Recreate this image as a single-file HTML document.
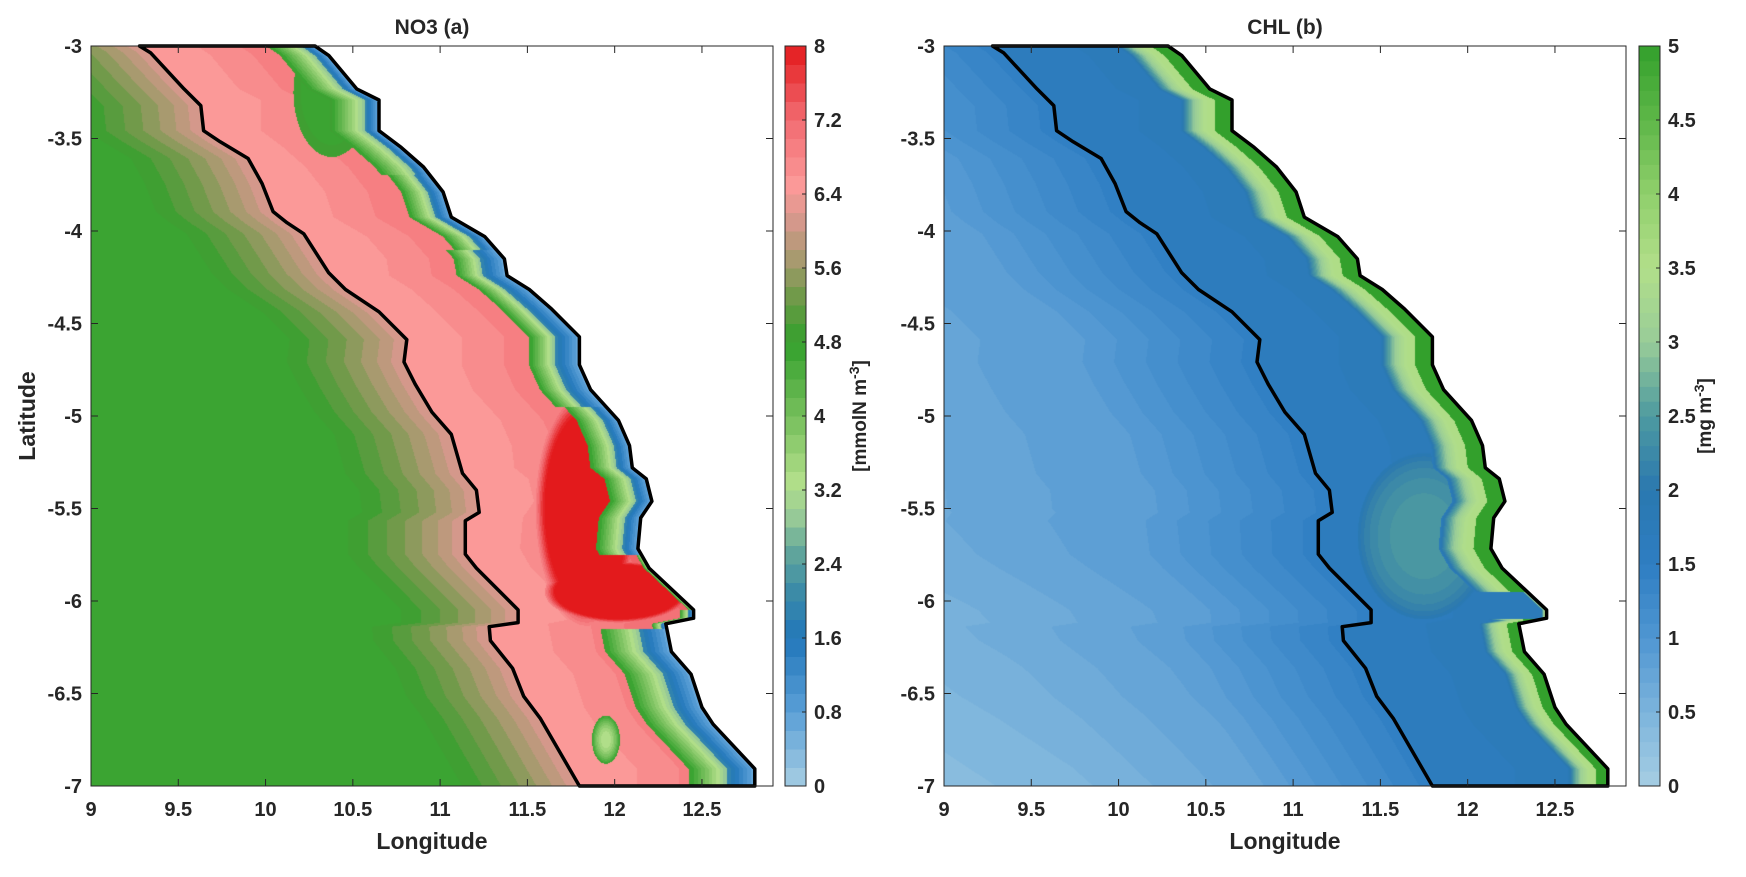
<!DOCTYPE html>
<html><head><meta charset="utf-8">
<style>
body{margin:0;background:#fff;width:1746px;height:877px;overflow:hidden;position:relative;font-family:"Liberation Sans",sans-serif;}
canvas{position:absolute;}
svg{position:absolute;left:0;top:0;}
text{font-family:"Liberation Sans",sans-serif;font-weight:bold;fill:#262626;}
</style></head>
<body>
<canvas id="c1" width="682" height="740" style="left:91px;top:46px"></canvas>
<canvas id="c2" width="682" height="740" style="left:944px;top:46px"></canvas>
<svg id="ov" width="1746" height="877"></svg>
<script>
// ---- data ----
const coastLon=[10.283,10.362,10.522,10.650,10.650,10.777,10.905,11.017,11.064,11.256,11.368,11.384,11.511,11.639,11.798,11.798,11.862,12.022,12.085,12.101,12.181,12.213,12.149,12.133,12.197,12.452,12.452,12.293,12.325,12.437,12.500,12.564,12.803,12.803];
const coastLat=[-3.000,-3.051,-3.232,-3.292,-3.458,-3.548,-3.654,-3.789,-3.925,-4.030,-4.151,-4.241,-4.316,-4.422,-4.572,-4.723,-4.858,-5.024,-5.160,-5.280,-5.340,-5.461,-5.551,-5.717,-5.822,-6.048,-6.093,-6.123,-6.274,-6.395,-6.575,-6.666,-6.907,-7.000];
const shelfLon=[9.278,9.341,9.533,9.629,9.645,9.740,9.900,9.980,10.043,10.123,10.219,10.362,10.458,10.650,10.809,10.793,10.857,10.953,11.064,11.128,11.208,11.224,11.144,11.144,11.208,11.447,11.447,11.281,11.288,11.415,11.479,11.575,11.798];
const shelfLat=[-3.000,-3.036,-3.232,-3.322,-3.458,-3.518,-3.608,-3.744,-3.895,-3.955,-4.015,-4.226,-4.316,-4.437,-4.587,-4.708,-4.828,-4.979,-5.099,-5.310,-5.401,-5.521,-5.566,-5.747,-5.822,-6.048,-6.117,-6.139,-6.214,-6.364,-6.515,-6.636,-7.000];
const xTicks=[9,9.5,10,10.5,11,11.5,12,12.5];
const xTickLabels=["9","9.5","10","10.5","11","11.5","12","12.5"];
const yTicks=[-3,-3.5,-4,-4.5,-5,-5.5,-6,-6.5,-7];
const yTickLabels=["-3","-3.5","-4","-4.5","-5","-5.5","-6","-6.5","-7"];
const no3Ticks=[0,0.8,1.6,2.4,3.2,4,4.8,5.6,6.4,7.2,8];
const no3TickLabels=["0","0.8","1.6","2.4","3.2","4","4.8","5.6","6.4","7.2","8"];
const chlTicks=[0,0.5,1,1.5,2,2.5,3,3.5,4,4.5,5];
const chlTickLabels=["0","0.5","1","1.5","2","2.5","3","3.5","4","4.5","5"];
// ---- axes ----
const AX={w:682,h:740,top:46,lon0:9,lon1:12.907,lat0:-3,lat1:-7};
const panels=[{left:91,cb:785,cid:'c1',max:8,ticks:no3Ticks,tl:no3TickLabels,title:"NO3  (a)",unit:"[mmolN m",name:'no3'},
              {left:944,cb:1639,cid:'c2',max:5,ticks:chlTicks,tl:chlTickLabels,title:"CHL  (b)",unit:"[mg m",name:'chl'}];
function xs(lon){return (lon-AX.lon0)/(AX.lon1-AX.lon0)*AX.w;}
function ys(lat){return (lat-AX.lat0)/(AX.lat1-AX.lat0)*AX.h;}
function interp(lats,lons,lat){
  for(let i=0;i<lats.length-1;i++){ if(lat<=lats[i]&&lat>=lats[i+1]){const t=(lats[i]-lat)/((lats[i]-lats[i+1])||1);return lons[i]+t*(lons[i+1]-lons[i]);}}
  return lons[lons.length-1];
}
function cl(x){return x<0?0:x>1?1:x;}
function hex(h){return [parseInt(h.substr(1,2),16),parseInt(h.substr(3,2),16),parseInt(h.substr(5,2),16)];}
function cmap(stops,t){
  t=cl(t);for(let i=0;i<stops.length-1;i++){if(t<=stops[i+1][0]){const u=(t-stops[i][0])/(stops[i+1][0]-stops[i][0]);const a=hex(stops[i][1]),b=hex(stops[i+1][1]);return [0,1,2].map(k=>Math.round(a[k]+u*(b[k]-a[k])));}}
  return hex(stops[stops.length-1][1]);
}
const no3Stops=[[0,'#a6cee3'],[0.1,'#5a9fd6'],[0.2,'#2277ba'],[0.26,'#3a8aa8'],[0.32,'#64a89a'],[0.36,'#94c898'],[0.41,'#b2df8a'],[0.5,'#76bf5c'],[0.6,'#33a02c'],[0.66,'#6e9a48'],[0.71,'#a69a6e'],[0.76,'#d2988a'],[0.81,'#fb9a99'],[0.9,'#f26c72'],[1,'#e31a1c']];
const chlStops=[[0,'#a6cee3'],[0.1,'#7cb4dc'],[0.2,'#4f96d2'],[0.3,'#2e7ec2'],[0.4,'#2a78b0'],[0.5,'#4e9aa0'],[0.6,'#98cc98'],[0.7,'#b2df8a'],[0.8,'#90cf6c'],[0.9,'#5eb748'],[1,'#33a02c']];
function no3Val(lon,lat,c,s){
  const dc=c-lon,e=s-lon;
  let v;
  if(e>0){v=6.25-1.5*Math.pow(cl(e/0.7),0.8); v-=0.1*cl((e-1.2)/1);}
  else{v=6.5+0.8*Math.pow(cl(1-dc/0.9),1.5);}
  let w=1-Math.pow((lon-11.84)/0.3,2)-Math.pow((lat+5.5)/0.65,2);
  if(w>0)v=Math.max(v,6.6+w*4);
  let w2=1-Math.pow((lon-12.02)/0.42,2)-Math.pow((lat+5.95)/0.17,2);
  if(w2>0)v=Math.max(v,6.8+w2*5);
  let w3=1-Math.pow((lon-11.95)/0.08,2)-Math.pow((lat+6.75)/0.13,2);
  if(w3>0)v=3.2+1.6*(1-w3);
  let gw,bw;
  if(lat>-3.7){gw=0.2;bw=0.08;}
  else if(lat>-6.05){gw=0.15;bw=(lat<-4.1&&lat>-4.95)?0.14:0.09;}
  else if(lat>-6.15){gw=0.05;bw=0.03;}
  else {gw=0.22;bw=0.16;}
  if(lat<-5.75&&lat>-6.05){gw=0.03;bw=0.0;}
  if(dc<bw)v=0.6+1.4*(dc/bw);
  else if(dc<bw+gw){const t=(dc-bw)/gw;v=2.8+2.1*t;}
  let wn=1-Math.pow((lon-10.38)/0.22,2)-Math.pow((lat+3.25)/0.35,2);
  if(wn>0&&dc>=bw+gw)v=Math.min(v,4.9-wn*0.3);
  return Math.min(8,v);
}
function chlVal(lon,lat,c,s){
  const dc=c-lon,e=s-lon;
  let v;
  if(e>0){v=1.45-0.55*cl(e/1.0)-0.3*cl((e-1)/1.8);v-=0.25*cl((-lat-5.5)/1.5)*cl(e/2);}
  else{v=1.65+0.15*cl(1-dc/0.8);}
  let w=1-Math.pow((lon-11.75)/0.38,2)-Math.pow((lat+5.65)/0.45,2);
  if(w>0)v=Math.max(v,1.8+Math.sqrt(w)*0.7);
  let gw=0.1,lw=0.2;
  if(lat<-6.1){gw=0.07;lw=0.16;}
  if(lat<-5.95&&lat>-6.1){gw=0;lw=0.03;}
  if(dc<gw)v=5;
  else if(dc<gw+lw){const t=(dc-gw)/lw;v=3.6-1.9*t*t;v=Math.max(v,1.7);}
  return Math.min(5,Math.max(0,v));
}
panels.forEach((p,pi)=>{
  const cv=document.getElementById(p.cid),ctx=cv.getContext('2d');
  const img=ctx.createImageData(AX.w,AX.h);
  const stops=pi==0?no3Stops:chlStops, step=p.max/(pi==0?40:50);
  for(let y=0;y<AX.h;y++){
    const lat=AX.lat0+(y+0.5)/AX.h*(AX.lat1-AX.lat0);
    const c=interp(coastLat,coastLon,lat),s=interp(shelfLat,shelfLon,lat);
    for(let x=0;x<AX.w;x++){
      const lon=AX.lon0+(x+0.5)/AX.w*(AX.lon1-AX.lon0);
      const i=(y*AX.w+x)*4;
      if(lon>c){img.data[i]=img.data[i+1]=img.data[i+2]=255;img.data[i+3]=255;continue;}
      let v=pi==0?no3Val(lon,lat,c,s):chlVal(lon,lat,c,s);
      v=(Math.floor(v/step)+0.5)*step;
      const col=cmap(stops,v/p.max);
      img.data[i]=col[0];img.data[i+1]=col[1];img.data[i+2]=col[2];img.data[i+3]=255;
    }
  }
  ctx.putImageData(img,0,0);
});
// ---- overlay ----
const NS="http://www.w3.org/2000/svg",ov=document.getElementById('ov');
function mk(tag,attrs,parent,txt){const e=document.createElementNS(NS,tag);for(const k in attrs)e.setAttribute(k,attrs[k]);if(txt!==undefined)e.textContent=txt;(parent||ov).appendChild(e);return e;}
panels.forEach((p,pi)=>{
  const g=mk('g',{transform:`translate(${p.left},${AX.top})`});
  
  
  let d='';
  shelfLon.forEach((lo,i)=>{d+=(i?'L':'M')+xs(lo).toFixed(1)+','+ys(shelfLat[i]).toFixed(1);});
  for(let i=coastLon.length-1;i>=0;i--)d+='L'+xs(coastLon[i]).toFixed(1)+','+ys(coastLat[i]).toFixed(1);
  d+='Z';
  const ol=mk('path',{d:d,fill:'none',stroke:'#000','stroke-width':3.5,'stroke-linejoin':'round'},g);
  
  
  mk('rect',{x:0,y:0,width:AX.w,height:AX.h,fill:'none',stroke:'#262626','stroke-width':1},g);
  xTicks.forEach((t,i)=>{const x=xs(t);
    mk('path',{d:`M${x},${AX.h}v-7M${x},0v7`,stroke:'#262626','stroke-width':1},g);
    const tx=mk('text',{x:x,y:AX.h+30,'text-anchor':'middle','font-size':20},g,xTickLabels[i]);
    
    
  });
  yTicks.forEach((t,i)=>{const y=ys(t);
    mk('path',{d:`M0,${y}h7M${AX.w},${y}h-7`,stroke:'#262626','stroke-width':1},g);
    const tx=mk('text',{x:-9,y:y+7,'text-anchor':'end','font-size':20},g,yTickLabels[i]);
    
    
  });
  const ti=mk('text',{x:AX.w/2,y:-12,'text-anchor':'middle','font-size':21,'xml:space':'preserve'},g,p.title);
  
  
  const xl=mk('text',{x:AX.w/2,y:AX.h+63,'text-anchor':'middle','font-size':23},g,'Longitude');
  
  
  if(pi==0){const yl=mk('text',{transform:`translate(-56,${AX.h/2}) rotate(-90)`,'text-anchor':'middle','font-size':23},g,'Latitude');
    
    }
  // colorbar
  const cb=mk('g',{transform:`translate(${p.cb},${AX.top})`});
  
  
  const n=pi==0?40:50,stops=pi==0?no3Stops:chlStops,W=21;
  for(let k=0;k<n;k++){const col=cmap(stops,(k+0.5)/n);
    mk('rect',{x:0,y:AX.h-(k+1)*AX.h/n,width:W,height:AX.h/n+0.5,fill:`rgb(${col})`},cb);}
  mk('rect',{x:0,y:0,width:W,height:AX.h,fill:'none',stroke:'#262626','stroke-width':1},cb);
  p.ticks.forEach((t,i)=>{const y=AX.h-t/p.max*AX.h;
    mk('path',{d:`M${W},${y}h-4`,stroke:'#262626'},cb);
    const tx=mk('text',{x:W+8,y:y+7,'font-size':20},cb,p.tl[i]);
    
    
  });
  const ux=pi==0?81:72;
  const ul=mk('text',{transform:`translate(${ux},${AX.h/2}) rotate(-90)`,'text-anchor':'middle','font-size':19},cb);
  
  
  ul.appendChild(document.createTextNode(p.unit));
  const sup=document.createElementNS(NS,'tspan');sup.setAttribute('dy','-7');sup.setAttribute('font-size','14');sup.textContent='-3';ul.appendChild(sup);
  const cl2=document.createElementNS(NS,'tspan');cl2.setAttribute('dy','7');cl2.textContent=']';ul.appendChild(cl2);
});
</script>
</body></html>
